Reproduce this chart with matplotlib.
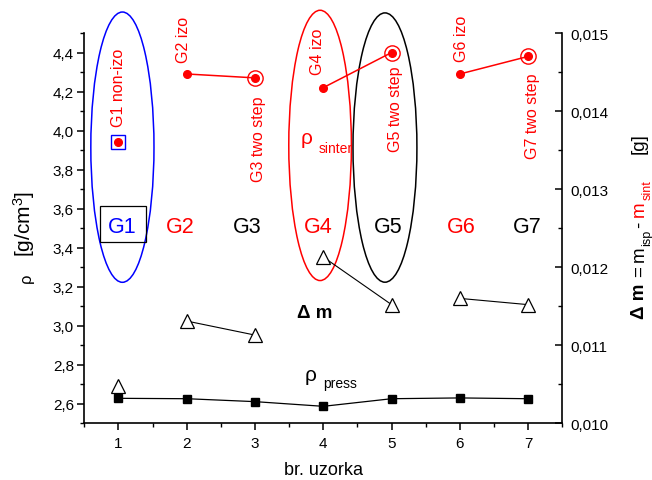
import matplotlib
matplotlib.use('Agg')
import matplotlib.pyplot as plt
from matplotlib.patches import Ellipse, Rectangle
from matplotlib.ticker import MultipleLocator, FuncFormatter

plt.rcParams['font.family'] = ['Liberation Sans', 'DejaVu Sans']
plt.rcParams['mathtext.fontset'] = 'custom'
plt.rcParams['mathtext.rm'] = 'Liberation Sans'
plt.rcParams['mathtext.it'] = 'Liberation Sans:italic'
plt.rcParams['mathtext.bf'] = 'Liberation Sans:bold'

# ---------------- data ----------------
samples = [1, 2, 3, 4, 5, 6, 7]
rho_sinter = [3.94, 4.29, 4.27, 4.22, 4.40, 4.29, 4.38]
rho_press = [2.628, 2.626, 2.611, 2.587, 2.626, 2.630, 2.626]
delta_m = [0.01048, 0.01131, 0.01113, 0.01213, 0.01152, 0.01160, 0.01152]
group_labels = ['G1', 'G2', 'G3', 'G4', 'G5', 'G6', 'G7']
sample_notes = ['G1 non-izo', 'G2 izo', 'G3 two step', 'G4 izo',
                'G5 two step', 'G6 izo', 'G7 two step']
x_ticks = [1, 2, 3, 4, 5, 6, 7]
left_ticks = [2.6, 2.8, 3.0, 3.2, 3.4, 3.6, 3.8, 4.0, 4.2, 4.4]
right_ticks = [0.010, 0.011, 0.012, 0.013, 0.014, 0.015]
connected_pairs = [(1, 2), (3, 4), (5, 6)]   # indices joined by a line
two_step_idx = [2, 4, 6]                      # ringed points

# ---------------- styles / layout ----------------
RED = '#ff0000'
BLUE = '#0000ff'
group_colors = [BLUE, RED, 'black', RED, 'black', RED, 'black']
W, H = 652, 481

fig = plt.figure(figsize=(W / 100, H / 100), dpi=100)
ax_l, ax_r, ax_t, ax_b = 84.3, 562.3, 34.0, 424.3
ax = fig.add_axes([ax_l / W, 1 - ax_b / H, (ax_r - ax_l) / W, (ax_b - ax_t) / H])
ax.set_xlim(0.5, 7.5)
ax.set_ylim(2.5, 4.5)


def P(x, y):
    """pixel (from top-left) -> figure fraction"""
    return x / W, 1 - y / H


comma = FuncFormatter(lambda v, p: f"{v:.1f}".replace('.', ','))
comma3 = FuncFormatter(lambda v, p: f"{v:.3f}".replace('.', ','))

ax.set_xticks(x_ticks)
ax.xaxis.set_minor_locator(MultipleLocator(0.5))
ax.set_yticks(left_ticks)
ax.yaxis.set_minor_locator(MultipleLocator(0.1))
ax.yaxis.set_major_formatter(comma)
for s in ['top', 'right']:
    ax.spines[s].set_visible(False)
for s in ['left', 'bottom']:
    ax.spines[s].set_linewidth(1.2)
ax.tick_params(which='major', direction='out', length=5, width=1.1, labelsize=11, pad=2.5)
ax.tick_params(which='minor', direction='out', length=3, width=1.0)
ax.tick_params(axis='x', which='major', pad=4)

ax2 = ax.twinx()
ax2.set_ylim(0.010, 0.015)
ax2.set_yticks(right_ticks)
ax2.yaxis.set_minor_locator(MultipleLocator(0.0005))
ax2.yaxis.set_major_formatter(comma3)
for s in ['top', 'left', 'bottom']:
    ax2.spines[s].set_visible(False)
ax2.spines['right'].set_linewidth(1.2)
ax2.tick_params(which='major', direction='in', length=5, width=1.1, labelsize=11, pad=6)
ax2.tick_params(which='minor', direction='in', length=3, width=1.0)

# ---------------- ellipses ----------------
ellipses = [((1.058, 3.915), 0.925, 1.385, BLUE),
            ((3.953, 3.924), 0.917, 1.385, RED),
            ((4.903, 3.913), 0.936, 1.380, 'black')]
for c, w, h, col in ellipses:
    ax.add_patch(Ellipse(c, w, h, fill=False, edgecolor=col, lw=1.1, clip_on=False, zorder=2))

# ---------------- rho_press ----------------
ax.plot(samples, rho_press, color='black', lw=0.9, marker='s', ms=5.5,
        markerfacecolor='black', markeredgecolor='black', zorder=3, clip_on=False)

# ---------------- rho_sinter ----------------
for i, j in connected_pairs:
    ax.plot([samples[i], samples[j]], [rho_sinter[i], rho_sinter[j]], color=RED, lw=1.1, zorder=3)
ax.plot(samples, rho_sinter, ls='none', marker='o', ms=5.5, color=RED, zorder=4)
ax.plot([samples[k] for k in two_step_idx], [rho_sinter[k] for k in two_step_idx], ls='none',
        marker='o', ms=11, markerfacecolor='none', markeredgecolor=RED, mew=1.0, zorder=4)
ax.plot([samples[0]], [rho_sinter[0]], ls='none', marker='s', ms=10.5,
        markerfacecolor='none', markeredgecolor=BLUE, mew=1.0, zorder=4)

# ---------------- delta m ----------------
for i, j in connected_pairs:
    ax2.plot([samples[i], samples[j]], [delta_m[i], delta_m[j]], color='black', lw=0.8, zorder=3)
ax2.plot(samples, delta_m, ls='none', marker='^', ms=10, markerfacecolor='white',
         markeredgecolor='black', mew=0.9, zorder=4)

# ---------------- texts ----------------
note_px = [(118.5, 127), (184, 63.3), (258, 181.7), (317, 75), (395, 151.7), (461, 61.7), (532, 159.3)]
for (x, y), s in zip(note_px, sample_notes):
    fig.text(*P(x, y), s, rotation=90, ha='center', va='bottom', color=RED, fontsize=11.5)

g_px = [122, 180.3, 247.3, 318, 388.3, 461.3, 527.2]
for x, s, col in zip(g_px, group_labels, group_colors):
    fig.text(*P(x, 233.3), s, ha='center', va='baseline', color=col, fontsize=15.5)

# box around G1
x0, y0 = P(100, 243.3)
x1, y1 = P(145.7, 207.3)
fig.add_artist(Rectangle((x0, y0), x1 - x0, y1 - y0, transform=fig.transFigure,
                         fill=False, edgecolor='black', lw=0.9))

fig.text(*P(301, 144), 'ρ', color=RED, fontsize=15, ha='left', va='baseline')
fig.text(*P(319, 153), 'sinter', color=RED, fontsize=10, ha='left', va='baseline')
fig.text(*P(305, 381), 'ρ', color='black', fontsize=15, ha='left', va='baseline')
fig.text(*P(323.3, 388), 'press', color='black', fontsize=10, ha='left', va='baseline')
fig.text(*P(315, 318), 'Δ m', color='black', fontsize=13.5, fontweight='bold', ha='center', va='baseline')

# x axis label
ax.set_xlabel('br. uzorka', fontsize=13, labelpad=8)

# left label built from pieces (rotated)
left_pieces = [('ρ', 12, 283.5, 31),
               (r'[g/cm$^{3}$]', 15, 257, 31)]
for s, fs, y, xb in left_pieces:
    fig.text(*P(xb, y), s, color='black', fontsize=fs, rotation=90,
             rotation_mode='anchor', ha='left', va='baseline')

# right label built from pieces (rotated)
pieces = [('Δ m', 'black', 13.5, 'bold', 319, 644),
          ('=', 'black', 13.5, 'normal', 277.5, 644),
          ('m', 'black', 13.5, 'normal', 262.5, 644),
          ('isp', 'black', 9, 'normal', 246.5, 650.5),
          ('-', 'black', 13.5, 'normal', 227.5, 644),
          ('m', RED, 13.5, 'normal', 217.5, 644),
          ('sint', RED, 9, 'normal', 200.5, 650.5),
          ('[g]', 'black', 13.5, 'normal', 154, 644)]
for s, col, fs, fw, y, xb in pieces:
    fig.text(*P(xb, y), s, color=col, fontsize=fs, fontweight=fw, rotation=90,
             rotation_mode='anchor', ha='left', va='baseline')

fig.savefig('out.png', dpi=100)
